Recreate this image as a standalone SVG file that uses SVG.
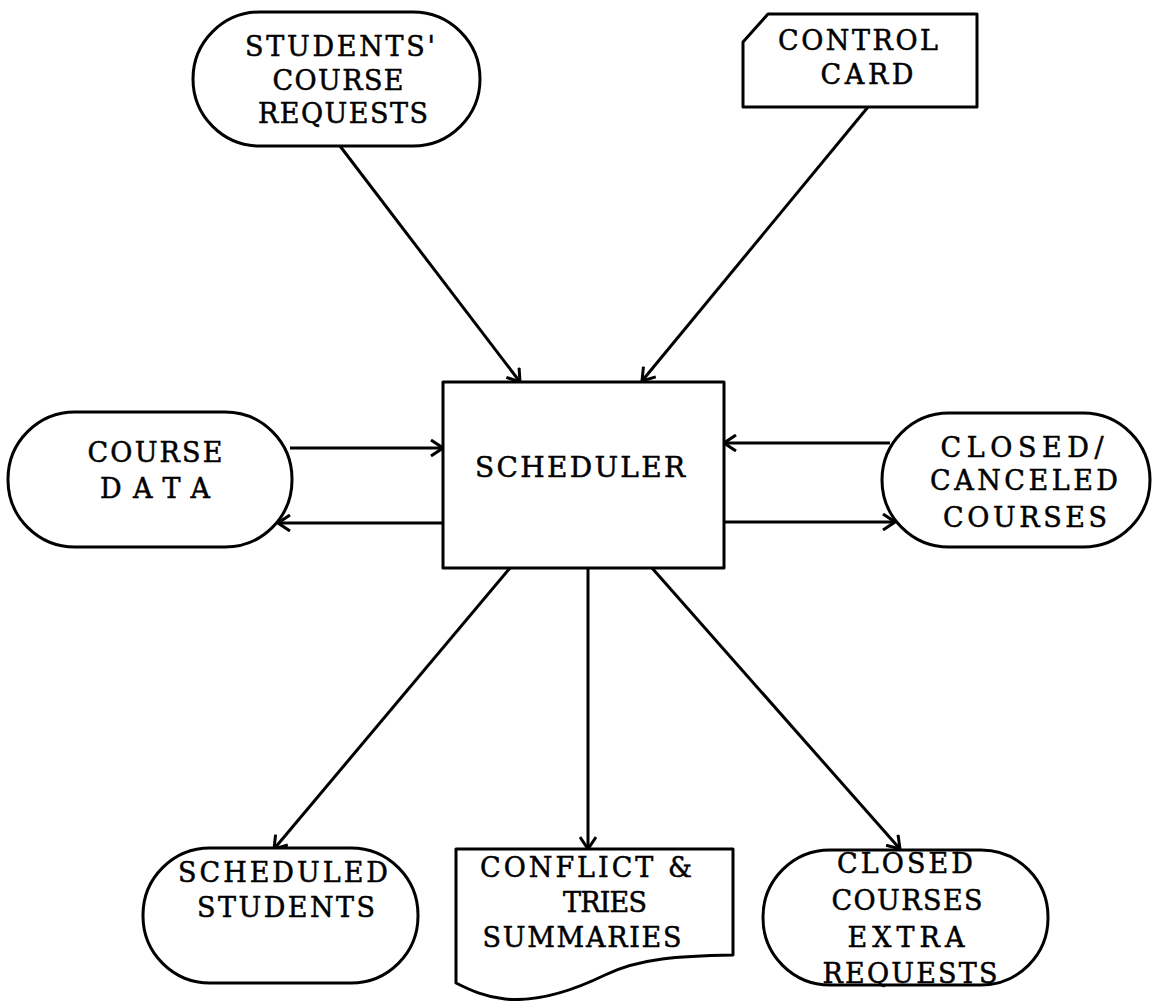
<svg xmlns="http://www.w3.org/2000/svg" width="1153" height="1001" viewBox="0 0 1153 1001">
<style>
.shape{fill:#fff;stroke:#000;stroke-width:3;stroke-linejoin:round}
.conn{fill:none;stroke:#000;stroke-width:3}
text{font-family:"DejaVu Serif",serif;font-size:27px;fill:#000;stroke:#000;stroke-width:0.5;text-anchor:middle}
</style>
<defs>
<marker id="arr" viewBox="0 0 14 18" refX="13" refY="9" markerWidth="14" markerHeight="18" markerUnits="userSpaceOnUse" orient="auto">
<path d="M1,1 L13,9 L1,17" fill="none" stroke="#000" stroke-width="3"/>
</marker>
</defs>
<rect width="1153" height="1001" fill="#fff"/>
<g id="connectors">
<line class="conn" x1="340" y1="146" x2="520" y2="382" marker-end="url(#arr)"/>
<line class="conn" x1="868" y1="107" x2="642" y2="381" marker-end="url(#arr)"/>
<line class="conn" x1="290" y1="448" x2="443" y2="448" marker-end="url(#arr)"/>
<line class="conn" x1="443" y1="523" x2="278" y2="523" marker-end="url(#arr)"/>
<line class="conn" x1="890" y1="443" x2="724" y2="443" marker-end="url(#arr)"/>
<line class="conn" x1="724" y1="522" x2="895" y2="522" marker-end="url(#arr)"/>
<line class="conn" x1="510" y1="568" x2="274" y2="849" marker-end="url(#arr)"/>
<line class="conn" x1="588" y1="568" x2="588" y2="849" marker-end="url(#arr)"/>
<line class="conn" x1="652" y1="568" x2="900" y2="849" marker-end="url(#arr)"/>
</g>
<g id="students-course-requests">
<rect class="shape" x="193" y="12" width="287" height="134" rx="67" ry="67"/>
<text x="340" y="56" textLength="190" lengthAdjust="spacing">STUDENTS'</text>
<text x="338" y="90" textLength="131" lengthAdjust="spacing">COURSE</text>
<text x="343" y="123" textLength="170" lengthAdjust="spacing">REQUESTS</text>
</g>
<g id="control-card">
<path class="shape" d="M768,14 L977,14 L977,107 L743,107 L743,42 Z"/>
<text x="858" y="50" textLength="160" lengthAdjust="spacing">CONTROL</text>
<text x="867" y="84" textLength="93" lengthAdjust="spacing">CARD</text>
</g>
<g id="scheduler">
<rect class="shape" x="443" y="382" width="281" height="186"/>
<text x="580" y="477" textLength="210" lengthAdjust="spacing" style="font-size:28px">SCHEDULER</text>
</g>
<g id="course-data">
<rect class="shape" x="8" y="412" width="284" height="135" rx="67" ry="67"/>
<text x="155" y="462" textLength="135" lengthAdjust="spacing">COURSE</text>
<text x="155" y="498" textLength="110" lengthAdjust="spacing">DATA</text>
</g>
<g id="closed-canceled-courses">
<rect class="shape" x="882" y="413" width="268" height="134" rx="67" ry="67"/>
<text x="1022" y="457" textLength="163" lengthAdjust="spacing">CLOSED/</text>
<text x="1024" y="490" textLength="188" lengthAdjust="spacing">CANCELED</text>
<text x="1025" y="527" textLength="164" lengthAdjust="spacing">COURSES</text>
</g>
<g id="scheduled-students">
<rect class="shape" x="143" y="848" width="275" height="135" rx="67" ry="67"/>
<text x="283" y="882" textLength="210" lengthAdjust="spacing">SCHEDULED</text>
<text x="286" y="917" textLength="178" lengthAdjust="spacing">STUDENTS</text>
</g>
<g id="conflict-tries-summaries">
<path class="shape" d="M456,849 L733,849 L733,955 C680,956 640,958 605,975 C570,992 535,1002 505,999 C485,997 470,990 456,983 Z"/>
<text x="586" y="877" textLength="212" lengthAdjust="spacing">CONFLICT &amp;</text>
<text x="605" y="912" textLength="84" lengthAdjust="spacing">TRIES</text>
<text x="582" y="947" textLength="199" lengthAdjust="spacing">SUMMARIES</text>
</g>
<g id="closed-courses-extra-requests">
<rect class="shape" x="763" y="850" width="285" height="135" rx="67" ry="67"/>
<text x="905" y="873" textLength="136" lengthAdjust="spacing">CLOSED</text>
<text x="907" y="910" textLength="151" lengthAdjust="spacing">COURSES</text>
<text x="906" y="947" textLength="117" lengthAdjust="spacing">EXTRA</text>
<text x="910" y="983" textLength="175" lengthAdjust="spacing">REQUESTS</text>
</g>
</svg>
